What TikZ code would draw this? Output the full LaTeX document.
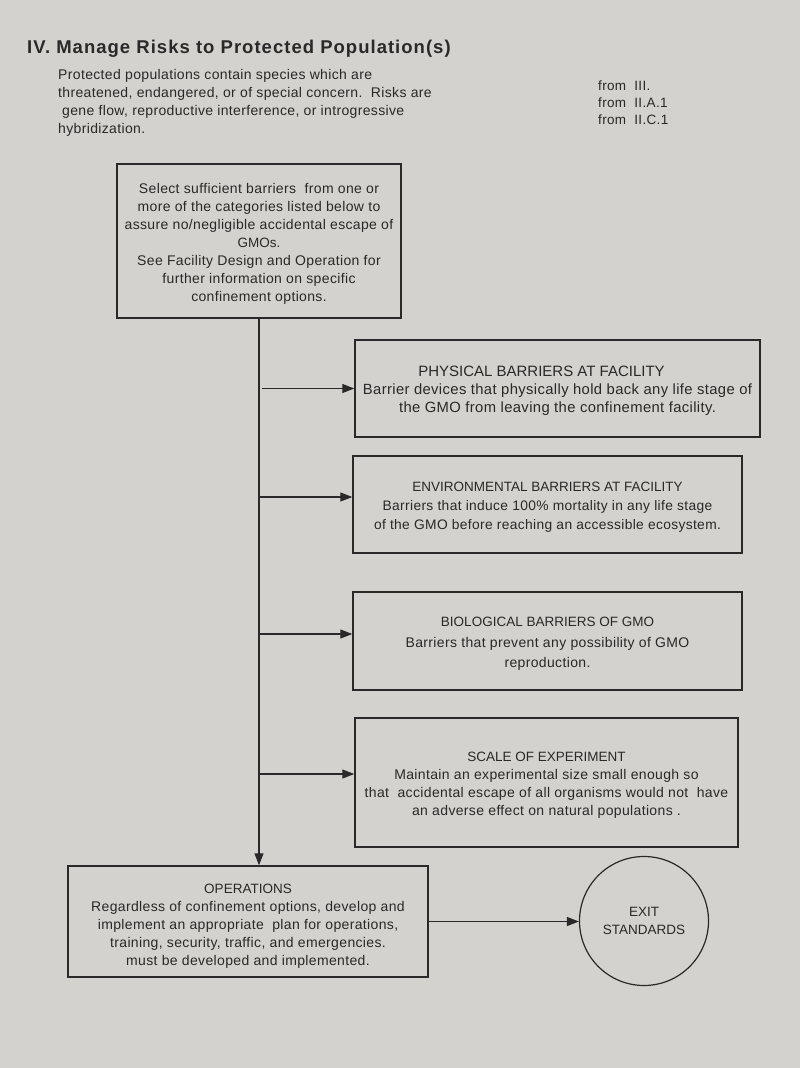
\documentclass[tikz,border=0pt]{standalone}
\usepackage{fontspec}
\setmainfont{Liberation Sans}
\newfontfamily\bodyfont[LetterSpace=2.5]{Liberation Sans}
\newfontfamily\titlefont[LetterSpace=5.5]{Liberation Sans}
\newcommand\hd[1]{{\rmfamily\fontsize{13.5}{18}\selectfont #1}}
\newcommand\topfix{\rule{0pt}{15pt}}
\usetikzlibrary{arrows.meta}
\definecolor{paper}{RGB}{212,210,206}
\definecolor{ink}{RGB}{42,40,40}
\begin{document}
\begin{tikzpicture}[x=1pt,y=-1pt,
  box/.style={draw=ink, line width=1.4pt, inner sep=0pt, align=center, text=ink,
    font=\bodyfont\fontsize{14}{18}\selectfont},
  plain/.style={inner sep=0pt, text=ink, font=\bodyfont\fontsize{14}{18}\selectfont},
  conn/.style={draw=ink, line width=1.1pt},
  arr/.style={conn, -{Triangle[length=12pt,width=9pt]}}]
\fill[paper] (0,0) rectangle (800,1068);
\useasboundingbox (0,0) rectangle (800,1068);

\node[plain, anchor=base west, font=\titlefont\fontsize{18.5}{22}\bfseries\selectfont] (title) at (27,53.5)
  {IV. Manage Risks to Protected Population(s)};
\node[plain, anchor=west, align=left] (intro) at (58,103)
  {Protected populations contain species which are\\
   threatened, endangered, or of special concern.\ \ Risks are\\
   \hspace*{4pt}gene flow, reproductive interference, or introgressive\\
   hybridization.};
\node[plain, anchor=west, align=left, font=\bodyfont\fontsize{13.5}{17}\selectfont] (from) at (598,103)
  {from\ \ III.\\ from\ \ II.A.1\\ from\ \ II.C.1};

\node[box, minimum width=284, minimum height=154] (select) at (259,241)
  {\topfix Select sufficient barriers\ \ from one or\\
   more of the categories listed below to\\
   assure no/negligible accidental escape of\\
   \hd{GMOs.}\\
   See Facility Design and Operation for\\
   further information on specific\\
   confinement options.};

\node[box, minimum width=405, minimum height=97, font=\bodyfont\fontsize{14.8}{18}\selectfont] (phys) at (557.5,388.5)
  {\topfix{\rmfamily\fontsize{15}{18}\selectfont PHYSICAL BARRIERS AT FACILITY}\hspace*{32pt}\\
   Barrier devices that physically hold back any life stage of\\
   the GMO from leaving the confinement facility.};

\node[box, minimum width=389, minimum height=97, font=\bodyfont\fontsize{13.8}{19}\selectfont] (env) at (547.5,504.5)
  {\topfix\hd{ENVIRONMENTAL BARRIERS AT FACILITY}\\
   Barriers that induce 100\% mortality in any life stage\\
   of the GMO before reaching an accessible ecosystem.};

\node[box, minimum width=389, minimum height=98, font=\bodyfont\fontsize{14}{20.5}\selectfont] (bio) at (547.5,641)
  {\topfix\hd{BIOLOGICAL BARRIERS OF GMO}\\
   Barriers that prevent any possibility of GMO\\
   reproduction.};

\node[box, minimum width=383, minimum height=129] (scale) at (546.5,782.5)
  {\topfix\hd{SCALE OF EXPERIMENT}\\
   Maintain an experimental size small enough so\\
   that\ \ accidental escape of all organisms would not\ \ have\\
   an adverse effect on natural populations .};

\node[box, minimum width=360, minimum height=111] (ops) at (248,921.5)
  {\rule{0pt}{18pt}\hd{OPERATIONS}\\
   Regardless of confinement options, develop and\\
   implement an appropriate\ \ plan for operations,\\
   training, security, traffic, and emergencies.\\
   must be developed and implemented.};

\node[box, circle, line width=1.2pt, minimum size=129, font=\rmfamily\fontsize{13.5}{18}\selectfont] (exit) at (644,921)
  {EXIT\\ STANDARDS};

\coordinate (spine) at (select.south);
\coordinate (physin) at (phys.west);
\coordinate (envin) at ([yshift=7.5pt]env.west);
\coordinate (bioin) at ([yshift=7pt]bio.west);
\coordinate (scalein) at ([yshift=8.5pt]scale.west);
\draw[arr] (select.south) -- (select.south |- ops.north);
\draw[arr] ([xshift=3pt]spine |- physin) -- (physin);
\draw[arr] (spine |- envin) -- (envin);
\draw[arr] (spine |- bioin) -- (bioin);
\draw[arr] (spine |- scalein) -- (scalein);
\draw[arr] (ops.east) -- (ops.east -| exit.west);
\end{tikzpicture}
\end{document}
